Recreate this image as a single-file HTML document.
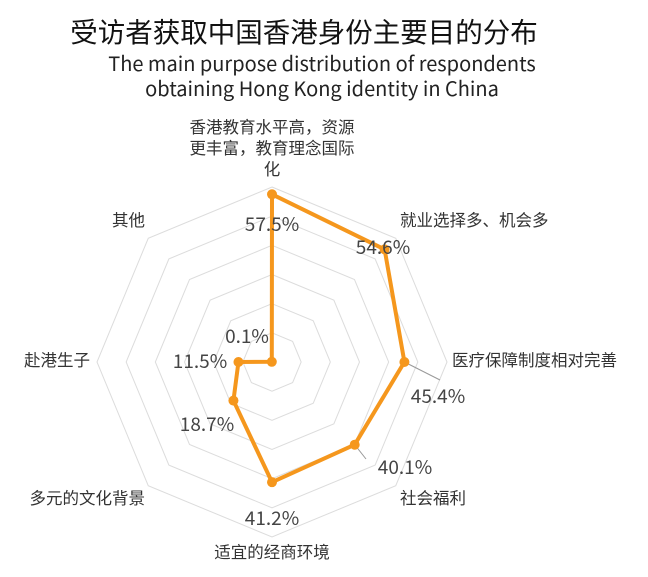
<!DOCTYPE html>
<html><head><meta charset="utf-8"><style>
body{margin:0;background:#fff;}
svg{display:block;font-family:"Noto Sans CJK SC","Liberation Sans",sans-serif;}
</style></head><body>
<svg id="chart" width="648" height="577">
<text x="304" y="42" text-anchor="middle" font-size="27.5" fill="#111">受访者获取中国香港身份主要目的分布</text>
<text x="322" y="71" text-anchor="middle" font-size="20" fill="#222">The main purpose distribution of respondents</text>
<text x="322" y="96" text-anchor="middle" font-size="20" fill="#222">obtaining Hong Kong identity in China</text>
<g id="grid"></g><g id="labels"></g><g id="series"></g>
</svg>
<script>
const categories=["香港教育水平高，资源|更丰富，教育理念国际|化","就业选择多、机会多","医疗保障制度相对完善","社会福利","适宜的经商环境","多元的文化背景","赴港生子","其他"];
const values=[57.5,54.6,45.4,40.1,41.2,18.7,11.5,0.1];
const valueLabels=["57.5%","54.6%","45.4%","40.1%","41.2%","18.7%","11.5%","0.1%"];
const maxValue=60, ringCount=6;
const cx=272,cy=362,R=175;
const NS="http://www.w3.org/2000/svg";
function ang(i){return -Math.PI/2+i*2*Math.PI/categories.length;}
function pt(i,v){const r=v/maxValue*R;return [cx+r*Math.cos(ang(i)),cy+r*Math.sin(ang(i))];}
function mk(t,a,p){const e=document.createElementNS(NS,t);for(const k in a)e.setAttribute(k,a[k]);p.appendChild(e);return e;}
const grid=document.getElementById('grid');
for(let k=1;k<=ringCount;k++){
 const v=maxValue*k/ringCount;
 const e=mk('polygon',{points:categories.map((c,i)=>pt(i,v).join(',')).join(' '),fill:'none',stroke:'#dcdcdc','stroke-width':1},grid);
 
 
}
const lab=document.getElementById('labels');
const labPos=[[272,133,'middle'],[400,226,'start'],[452,366,'start'],[400,504,'start'],[272,558,'middle'],[145,504,'end'],[90,366,'end'],[145,226,'end']];
categories.forEach((c,i)=>{
 const [x,y,a]=labPos[i];
 const t=mk('text',{x:x,y:y,'text-anchor':a,'font-size':16.5,fill:'#333'},lab);
 
 
 c.split('|').forEach((s,j)=>{const ts=mk('tspan',{x:x,dy:j?21:0},t);ts.textContent=s;});
});
const ser=document.getElementById('series');
const pts=values.map((v,i)=>pt(i,v));
[[0,[272,205]],[2,[440,380]],[3,[366,459]]].forEach(([i,end])=>{
 const l=mk('line',{x1:pts[i][0],y1:pts[i][1],x2:end[0],y2:end[1],stroke:'#999','stroke-width':1},ser);
 
 
});
const poly=mk('polygon',{points:pts.map(p=>p.join(',')).join(' '),fill:'none',stroke:'#f5971d','stroke-width':4,'stroke-linejoin':'round'},ser);


pts.forEach(p=>{
 const c=mk('circle',{cx:p[0],cy:p[1],r:5,fill:'#f5971d'},ser);
 
 
});
const vPos=[[272,231],[383,254],[438,403],[405,474],[272,525],[207,431],[200,368],[247,343]];
valueLabels.forEach((s,i)=>{
 const t=mk('text',{x:vPos[i][0],y:vPos[i][1],'text-anchor':'middle','font-size':19,fill:'#444'},ser);
 
 
 t.textContent=s;
});
</script>
</body></html>
